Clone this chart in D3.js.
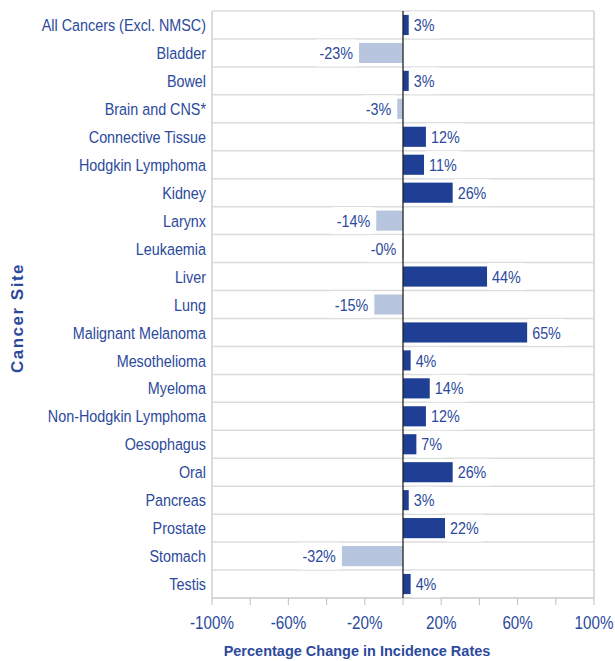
<!DOCTYPE html>
<html><head><meta charset="utf-8">
<script src="https://cdn.jsdelivr.net/npm/d3@7"></script>
<style>body{margin:0;background:#fff}svg{display:block}</style>
</head><body>
<script>
const categories = ["All Cancers (Excl. NMSC)","Bladder","Bowel","Brain and CNS*","Connective Tissue","Hodgkin Lymphoma","Kidney","Larynx","Leukaemia","Liver","Lung","Malignant Melanoma","Mesothelioma","Myeloma","Non-Hodgkin Lymphoma","Oesophagus","Oral","Pancreas","Prostate","Stomach","Testis"];
const values = [3,-23,3,-3,12,11,26,-14,-0.4,44,-15,65,4,14,12,7,26,3,22,-32,4];
const valueLabels = ["3%","-23%","3%","-3%","12%","11%","26%","-14%","-0%","44%","-15%","65%","4%","14%","12%","7%","26%","3%","22%","-32%","4%"];
const tickValues = [-100,-60,-20,20,60,100];
const minorTicks = [-100,-80,-60,-40,-20,0,20,40,60,80,100];

const W=615,H=661;
const font = "'Liberation Sans',Arial,sans-serif";
const sx = 0.845;
const blue = "#2c4a9c";
const svg = d3.select("body").append("svg").attr("width",W).attr("height",H);
const x = d3.scaleLinear().domain([-100,100]).range([212,594]);
const y = d3.scaleBand().domain(categories).range([11,598]).paddingInner(0.28).paddingOuter(0.14);

function ctext(sel, tx, ty, anchor, size, txt){
  return sel.append("text").attr("transform",`translate(${tx},${ty}) scale(${sx},1)`)
    .attr("dy","0.36em").attr("text-anchor",anchor).attr("font-family",font)
    .attr("font-size",size).attr("fill",blue).text(txt);
}

// gridlines at band boundaries
const g = svg.append("g");
for(let i=0;i<=categories.length;i++){
  const yy = 11 + i*(587/categories.length);
  g.append("line").attr("x1",212).attr("x2",594).attr("y1",yy).attr("y2",yy)
   .attr("stroke",i===categories.length?"#c8c8c8":"#dcdcdc").attr("stroke-width",1.5);
}
g.append("line").attr("x1",212).attr("x2",212).attr("y1",11).attr("y2",598).attr("stroke","#d0d0d0").attr("stroke-width",1.5);
g.append("line").attr("x1",594).attr("x2",594).attr("y1",11).attr("y2",598).attr("stroke","#d0d0d0").attr("stroke-width",1.5);

// minor ticks
svg.append("g").selectAll("line").data(minorTicks).join("line")
  .attr("x1",d=>x(d)).attr("x2",d=>x(d)).attr("y1",598).attr("y2",605)
  .attr("stroke","#c8c8c8").attr("stroke-width",1.2);

// bars
svg.append("g").selectAll("rect").data(categories).join("rect")
  .attr("x",(d,i)=>Math.min(x(0),x(values[i])))
  .attr("width",(d,i)=>Math.max(1.5,Math.abs(x(values[i])-x(0))))
  .attr("y",d=>y(d)).attr("height",y.bandwidth())
  .attr("fill",(d,i)=>values[i]>=0?"#1f3f94":"#b8c5df");

// zero line
svg.append("line").attr("x1",x(0)).attr("x2",x(0)).attr("y1",11).attr("y2",598).attr("stroke","#222").attr("stroke-width",1.3);

// value labels with white backgrounds
const lg = svg.append("g");
categories.forEach((c,i)=>{
  const v=values[i];
  const cy = y(c)+y.bandwidth()/2;
  const pos = v>=0;
  const tx = pos ? x(v)+5 : x(v)-6;
  const t = ctext(lg, tx, cy, pos?"start":"end", 17, valueLabels[i]);
  const b = t.node().getBBox();
  const w = b.width*sx;
  const bx = pos ? tx-4 : tx-w-4;
  lg.insert("rect","text").attr("x",bx).attr("y",cy-13.5).attr("width",w+8).attr("height",27).attr("fill","#fff");
});
lg.selectAll("text").raise();

// category labels
const cg = svg.append("g");
categories.forEach(c=>ctext(cg, 206, y(c)+y.bandwidth()/2, "end", 17, c));

// tick labels
const tg = svg.append("g");
tickValues.forEach(d=>ctext(tg, x(d), 623, "middle", 18, d+"%"));

// axis titles
svg.append("text").attr("x",357).attr("y",656).attr("text-anchor","middle")
  .attr("font-family",font).attr("font-weight","bold").attr("font-size",14.5)
  .attr("fill",blue).text("Percentage Change in Incidence Rates");
svg.append("text").attr("transform","translate(23,318) rotate(-90)").attr("text-anchor","middle")
  .attr("font-family",font).attr("font-weight","bold").attr("font-size",17).attr("letter-spacing","1.5px")
  .attr("fill",blue).text("Cancer Site");
</script>
</body></html>
